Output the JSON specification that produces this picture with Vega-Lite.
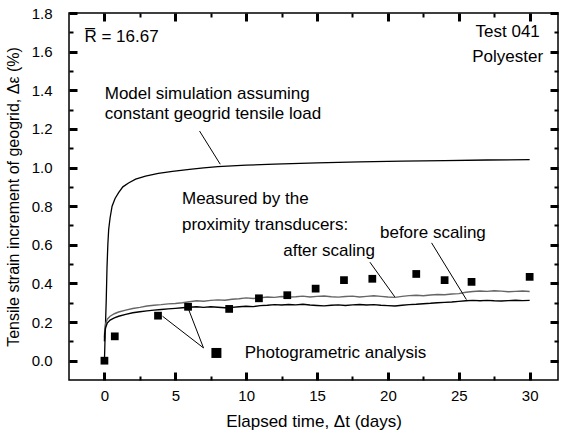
{
  "$schema": "https://vega.github.io/schema/vega-lite/v6.json",
  "width": 489,
  "height": 367,
  "autosize": {"type": "none"},
  "padding": {"left": 69, "top": 13, "right": 5, "bottom": 59},
  "background": "white",
  "config": {
    "font": "Liberation Sans",
    "view": {"stroke": "black", "strokeWidth": 1.5},
    "axis": {"labelColor": "black", "titleColor": "black", "tickColor": "black", "tickWidth": 3, "labelFontSize": 15, "titleFontSize": 17, "titleFontWeight": "normal", "grid": false, "domain": false}
  },
  "datasets": {
    "model": [
      {"t": 0, "v": 0}, {"t": 0.03, "v": 0.08}, {"t": 0.08, "v": 0.2}, {"t": 0.13, "v": 0.32}, {"t": 0.18, "v": 0.48},
      {"t": 0.24, "v": 0.6}, {"t": 0.3, "v": 0.68}, {"t": 0.4, "v": 0.74}, {"t": 0.54, "v": 0.8}, {"t": 0.75, "v": 0.84},
      {"t": 1.0, "v": 0.87}, {"t": 1.3, "v": 0.9}, {"t": 1.7, "v": 0.92}, {"t": 2.2, "v": 0.94}, {"t": 2.9, "v": 0.956},
      {"t": 3.8, "v": 0.97}, {"t": 4.8, "v": 0.98}, {"t": 6, "v": 0.99}, {"t": 7, "v": 0.998}, {"t": 8, "v": 1.005},
      {"t": 10, "v": 1.012}, {"t": 12, "v": 1.018}, {"t": 15, "v": 1.024}, {"t": 18, "v": 1.029}, {"t": 21, "v": 1.033},
      {"t": 24, "v": 1.036}, {"t": 27, "v": 1.039}, {"t": 30, "v": 1.041}
    ],
    "after": [
      {"t": 0, "v": 0.12}, {"t": 0.02, "v": 0.16}, {"t": 0.08, "v": 0.19}, {"t": 0.2, "v": 0.215}, {"t": 0.4, "v": 0.23},
      {"t": 0.7, "v": 0.243}, {"t": 1.0, "v": 0.252}, {"t": 1.5, "v": 0.262}, {"t": 2.0, "v": 0.27}, {"t": 2.5, "v": 0.276},
      {"t": 3.0, "v": 0.283}, {"t": 3.5, "v": 0.287}, {"t": 4.0, "v": 0.29}, {"t": 4.5, "v": 0.294}, {"t": 5.0, "v": 0.296},
      {"t": 5.5, "v": 0.3}, {"t": 6.0, "v": 0.305}, {"t": 6.5, "v": 0.31}, {"t": 7.0, "v": 0.308}, {"t": 7.5, "v": 0.312},
      {"t": 8.0, "v": 0.315}, {"t": 8.5, "v": 0.313}, {"t": 9.0, "v": 0.318}, {"t": 9.5, "v": 0.321}, {"t": 10, "v": 0.325},
      {"t": 10.5, "v": 0.322}, {"t": 11, "v": 0.326}, {"t": 11.5, "v": 0.33}, {"t": 12, "v": 0.328}, {"t": 12.5, "v": 0.332},
      {"t": 13, "v": 0.329}, {"t": 13.5, "v": 0.331}, {"t": 14, "v": 0.334}, {"t": 14.5, "v": 0.33}, {"t": 15, "v": 0.333},
      {"t": 15.5, "v": 0.335}, {"t": 16, "v": 0.331}, {"t": 16.5, "v": 0.329}, {"t": 17, "v": 0.332}, {"t": 17.5, "v": 0.334},
      {"t": 18, "v": 0.33}, {"t": 18.5, "v": 0.333}, {"t": 19, "v": 0.336}, {"t": 19.5, "v": 0.333}, {"t": 20, "v": 0.33},
      {"t": 20.5, "v": 0.328}, {"t": 21, "v": 0.333}, {"t": 21.5, "v": 0.337}, {"t": 22, "v": 0.339}, {"t": 22.5, "v": 0.336},
      {"t": 23, "v": 0.34}, {"t": 23.5, "v": 0.343}, {"t": 24, "v": 0.341}, {"t": 24.5, "v": 0.345}, {"t": 25, "v": 0.347},
      {"t": 25.5, "v": 0.354}, {"t": 26, "v": 0.358}, {"t": 26.5, "v": 0.361}, {"t": 27, "v": 0.359}, {"t": 27.5, "v": 0.362},
      {"t": 28, "v": 0.36}, {"t": 28.5, "v": 0.357}, {"t": 29, "v": 0.359}, {"t": 29.5, "v": 0.361}, {"t": 30, "v": 0.358}
    ],
    "before": [
      {"t": 0, "v": 0.1}, {"t": 0.02, "v": 0.14}, {"t": 0.08, "v": 0.17}, {"t": 0.2, "v": 0.195}, {"t": 0.4, "v": 0.21},
      {"t": 0.7, "v": 0.222}, {"t": 1.0, "v": 0.23}, {"t": 1.5, "v": 0.24}, {"t": 2.0, "v": 0.248}, {"t": 2.5, "v": 0.253},
      {"t": 3.0, "v": 0.258}, {"t": 3.5, "v": 0.262}, {"t": 4.0, "v": 0.265}, {"t": 4.5, "v": 0.268}, {"t": 5.0, "v": 0.271},
      {"t": 5.5, "v": 0.274}, {"t": 6.0, "v": 0.277}, {"t": 6.5, "v": 0.279}, {"t": 7.0, "v": 0.276}, {"t": 7.5, "v": 0.279},
      {"t": 8.0, "v": 0.277}, {"t": 8.5, "v": 0.274}, {"t": 9.0, "v": 0.276}, {"t": 9.5, "v": 0.279}, {"t": 10, "v": 0.282},
      {"t": 10.5, "v": 0.28}, {"t": 11, "v": 0.285}, {"t": 11.5, "v": 0.287}, {"t": 12, "v": 0.29}, {"t": 12.5, "v": 0.288},
      {"t": 13, "v": 0.291}, {"t": 13.5, "v": 0.289}, {"t": 14, "v": 0.292}, {"t": 14.5, "v": 0.288}, {"t": 15, "v": 0.286},
      {"t": 15.5, "v": 0.284}, {"t": 16, "v": 0.287}, {"t": 16.5, "v": 0.289}, {"t": 17, "v": 0.286}, {"t": 17.5, "v": 0.289},
      {"t": 18, "v": 0.291}, {"t": 18.5, "v": 0.288}, {"t": 19, "v": 0.29}, {"t": 19.5, "v": 0.287}, {"t": 20, "v": 0.285},
      {"t": 20.5, "v": 0.283}, {"t": 21, "v": 0.287}, {"t": 21.5, "v": 0.29}, {"t": 22, "v": 0.292}, {"t": 22.5, "v": 0.295},
      {"t": 23, "v": 0.297}, {"t": 23.5, "v": 0.3}, {"t": 24, "v": 0.302}, {"t": 24.5, "v": 0.304}, {"t": 25, "v": 0.307},
      {"t": 25.5, "v": 0.31}, {"t": 26, "v": 0.312}, {"t": 26.5, "v": 0.31}, {"t": 27, "v": 0.312}, {"t": 27.5, "v": 0.31},
      {"t": 28, "v": 0.309}, {"t": 28.5, "v": 0.311}, {"t": 29, "v": 0.313}, {"t": 29.5, "v": 0.311}, {"t": 30, "v": 0.312}
    ],
    "photo": [
      {"t": 0, "v": 0}, {"t": 0.73, "v": 0.126}, {"t": 3.78, "v": 0.233}, {"t": 5.9, "v": 0.279}, {"t": 8.8, "v": 0.268},
      {"t": 10.9, "v": 0.323}, {"t": 12.9, "v": 0.339}, {"t": 14.9, "v": 0.373}, {"t": 16.9, "v": 0.417}, {"t": 18.9, "v": 0.424},
      {"t": 22.0, "v": 0.449}, {"t": 24.0, "v": 0.417}, {"t": 25.9, "v": 0.408}, {"t": 30, "v": 0.434}
    ],
    "legend": [{"t": 7.9, "v": 0.04}],
    "leaders": [
      {"t": 6.71, "v": 1.189, "t2": 8.17, "v2": 1.017},
      {"t": 18.73, "v": 0.51, "t2": 20.49, "v2": 0.33},
      {"t": 23.08, "v": 0.61, "t2": 25.54, "v2": 0.316},
      {"t": 6.99, "v": 0.066, "t2": 4.1, "v2": 0.23},
      {"t": 6.99, "v": 0.066, "t2": 5.94, "v2": 0.265}
    ],
    "textLeft": [
      {"t": -1.41, "v": 1.675, "label": "R\u0305 = 16.67"},
      {"t": 0.02, "v": 1.38, "label": "Model simulation assuming"},
      {"t": 0.02, "v": 1.276, "label": "constant geogrid tensile load"},
      {"t": 5.47, "v": 0.835, "label": "Measured by the"},
      {"t": 5.47, "v": 0.705, "label": "proximity transducers:"},
      {"t": 19.44, "v": 0.659, "label": "before scaling"},
      {"t": 9.9, "v": 0.04, "label": "Photogrametric analysis"}
    ],
    "textCenter": [
      {"t": 28.45, "v": 1.70, "label": "Test 041"},
      {"t": 28.45, "v": 1.57, "label": "Polyester"}
    ],
    "textRight": [
      {"t": 19.08, "v": 0.567, "label": "after scaling"}
    ]
  },
  "resolve": {"axis": {"x": "independent", "y": "independent"}},
  "layer": [
    {
      "data": {"name": "model"},
      "mark": {"type": "line", "color": "black", "strokeWidth": 1.3},
      "encoding": {
        "x": {"field": "t", "type": "quantitative", "scale": {"domain": [-2.5, 32], "nice": false, "zero": false},
          "axis": {"orient": "bottom", "values": [0, 5, 10, 15, 20, 25, 30], "offset": -8, "tickSize": 8, "labelPadding": 8, "title": "Elapsed time, \u0394t (days)", "titlePadding": 10}},
        "y": {"field": "v", "type": "quantitative", "scale": {"domain": [-0.1, 1.8], "nice": false, "zero": false},
          "axis": {"orient": "left", "values": [0, 0.2, 0.4, 0.6, 0.8, 1.0, 1.2, 1.4, 1.6, 1.8], "format": ".1f", "offset": -8, "tickSize": 8, "labelPadding": 17, "title": "Tensile strain increment of geogrid,  \u0394\u03b5 (%)", "titleFontSize": 16, "titlePadding": 10}}
      }
    },
    {
      "data": {"name": "after"},
      "mark": {"type": "line", "color": "#666666", "strokeWidth": 1.4},
      "encoding": {
        "x": {"field": "t", "type": "quantitative", "scale": {"domain": [-2.5, 32], "nice": false, "zero": false},
          "axis": {"orient": "top", "values": [0, 5, 10, 15, 20, 25, 30], "tickSize": -8, "labels": false, "title": null}},
        "y": {"field": "v", "type": "quantitative", "scale": {"domain": [-0.1, 1.8], "nice": false, "zero": false},
          "axis": {"orient": "right", "values": [0, 0.2, 0.4, 0.6, 0.8, 1.0, 1.2, 1.4, 1.6, 1.8], "tickSize": -8, "labels": false, "title": null}}
      }
    },
    {
      "data": {"name": "before"},
      "mark": {"type": "line", "color": "black", "strokeWidth": 1.4},
      "encoding": {
        "x": {"field": "t", "type": "quantitative", "scale": {"domain": [-2.5, 32], "nice": false, "zero": false},
          "axis": {"orient": "bottom", "values": [2.5, 7.5, 12.5, 17.5, 22.5, 27.5], "offset": -4, "tickSize": 4, "tickWidth": 2, "labels": false, "title": null}},
        "y": {"field": "v", "type": "quantitative", "scale": {"domain": [-0.1, 1.8], "nice": false, "zero": false},
          "axis": {"orient": "left", "values": [0.1, 0.3, 0.5, 0.7, 0.9, 1.1, 1.3, 1.5, 1.7], "offset": -4, "tickSize": 4, "tickWidth": 2, "labels": false, "title": null}}
      }
    },
    {
      "data": {"name": "photo"},
      "mark": {"type": "point", "shape": "square", "filled": true, "color": "black", "size": 60, "opacity": 1},
      "encoding": {
        "x": {"field": "t", "type": "quantitative", "scale": {"domain": [-2.5, 32], "nice": false, "zero": false},
          "axis": {"orient": "top", "values": [2.5, 7.5, 12.5, 17.5, 22.5, 27.5], "tickSize": -4, "tickWidth": 2, "labels": false, "title": null}},
        "y": {"field": "v", "type": "quantitative", "scale": {"domain": [-0.1, 1.8], "nice": false, "zero": false},
          "axis": {"orient": "right", "values": [0.1, 0.3, 0.5, 0.7, 0.9, 1.1, 1.3, 1.5, 1.7], "tickSize": -4, "tickWidth": 2, "labels": false, "title": null}}
      }
    },
    {
      "data": {"name": "legend"},
      "mark": {"type": "point", "shape": "square", "filled": true, "color": "black", "size": 100, "opacity": 1},
      "encoding": {
        "x": {"field": "t", "type": "quantitative", "axis": null},
        "y": {"field": "v", "type": "quantitative", "axis": null}
      }
    },
    {
      "data": {"name": "leaders"},
      "mark": {"type": "rule", "color": "black", "strokeWidth": 1},
      "encoding": {
        "x": {"field": "t", "type": "quantitative", "axis": null},
        "y": {"field": "v", "type": "quantitative", "axis": null},
        "x2": {"field": "t2"},
        "y2": {"field": "v2"}
      }
    },
    {
      "data": {"name": "textLeft"},
      "mark": {"type": "text", "align": "left", "baseline": "middle", "fontSize": 17, "color": "black"},
      "encoding": {
        "x": {"field": "t", "type": "quantitative", "axis": null},
        "y": {"field": "v", "type": "quantitative", "axis": null},
        "text": {"field": "label"}
      }
    },
    {
      "data": {"name": "textCenter"},
      "mark": {"type": "text", "align": "center", "baseline": "middle", "fontSize": 17, "color": "black"},
      "encoding": {
        "x": {"field": "t", "type": "quantitative", "axis": null},
        "y": {"field": "v", "type": "quantitative", "axis": null},
        "text": {"field": "label"}
      }
    },
    {
      "data": {"name": "textRight"},
      "mark": {"type": "text", "align": "right", "baseline": "middle", "fontSize": 17, "color": "black"},
      "encoding": {
        "x": {"field": "t", "type": "quantitative", "axis": null},
        "y": {"field": "v", "type": "quantitative", "axis": null},
        "text": {"field": "label"}
      }
    }
  ]
}
